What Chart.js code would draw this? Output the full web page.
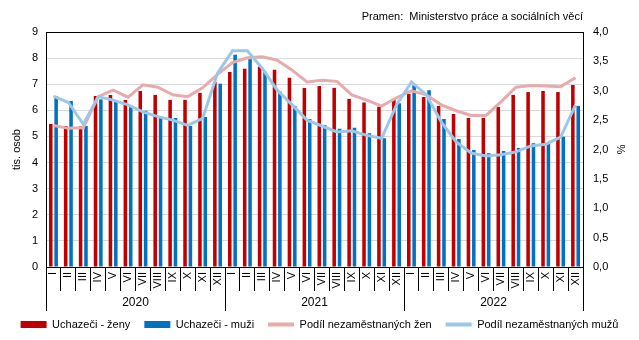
<!DOCTYPE html>
<html>
<head>
<meta charset="utf-8">
<script src="https://cdn.jsdelivr.net/npm/chart.js@4"></script>
<style>
  html, body { margin: 0; padding: 0; background: #fff; }
  #wrap { width: 639px; height: 340px; position: relative; }
</style>
</head>
<body>
<div id="wrap"><canvas id="c"></canvas></div>
<script>
const months = ['I','II','III','IV','V','VI','VII','VIII','IX','X','XI','XII'];
const years = ['2020','2021','2022'];
const womenJobseekers = [5.48,5.40,5.38,6.55,6.59,6.40,6.74,6.59,6.40,6.40,6.67,7.09,
                         7.47,7.59,7.67,7.55,7.25,6.86,6.93,6.86,6.44,6.30,6.14,6.40,
                         6.63,6.51,6.17,5.86,5.71,5.71,6.13,6.59,6.70,6.74,6.70,6.97];
const menJobseekers = [6.55,6.36,5.40,6.42,6.35,6.14,5.98,5.77,5.71,5.40,5.74,7.02,
                       8.13,7.96,7.48,6.72,6.17,5.67,5.44,5.29,5.33,5.12,4.93,6.27,
                       6.96,6.77,5.67,4.90,4.48,4.36,4.44,4.56,4.74,4.76,4.99,6.17];
const shareWomen = [2.41,2.36,2.37,2.90,3.01,2.89,3.10,3.06,2.93,2.90,3.05,3.28,
                    3.48,3.56,3.58,3.52,3.35,3.15,3.18,3.16,2.93,2.84,2.74,2.88,
                    3.00,2.93,2.76,2.66,2.58,2.58,2.81,3.06,3.09,3.08,3.07,3.22];
const shareMen = [2.91,2.80,2.43,2.90,2.84,2.76,2.64,2.56,2.50,2.41,2.53,3.30,
                  3.68,3.68,3.38,3.01,2.76,2.50,2.40,2.30,2.32,2.24,2.19,2.76,
                  3.15,2.93,2.47,2.13,1.94,1.89,1.91,1.96,2.06,2.09,2.21,2.76];
const seriesNames = ['Uchazeči - ženy','Uchazeči - muži','Podíl nezaměstnaných žen','Podíl nezaměstnaných mužů'];
const leftTitle = 'tis. osob';
const rightTitle = '%';
const sourceText = 'Pramen:  Ministerstvo práce a sociálních věcí';

const labels = years.flatMap(() => months);
const FONT = '"Liberation Sans", Arial, sans-serif';
const colors = ['#C00000', '#0070C0', '#E8ABAD', '#9CC8E8'];

const extras = {
  id: 'extras',
  afterDraw(chart) {
    const { ctx, chartArea, scales } = chart;
    const x = scales.x;
    const n = months.length;
    const half = (x.getPixelForValue(1) - x.getPixelForValue(0)) / 2;
    ctx.save();
    ctx.strokeStyle = '#000';
    ctx.lineWidth = 1;
    for (let k = 0; k <= years.length; k++) {
      const px = Math.round(x.getPixelForValue(k * n) - half) + 0.5;
      ctx.beginPath();
      ctx.moveTo(px, chartArea.bottom);
      ctx.lineTo(px, chartArea.bottom + 44);
      ctx.stroke();
    }
    ctx.fillStyle = '#000';
    ctx.font = '12px ' + FONT;
    ctx.textAlign = 'center';
    ctx.textBaseline = 'middle';
    years.forEach((yr, k) => {
      const cx = (x.getPixelForValue(k * n) + x.getPixelForValue(k * n + n - 1)) / 2;
      ctx.fillText(yr, cx, chartArea.bottom + 36);
    });
    ctx.font = '11px ' + FONT;
    ctx.textAlign = 'right';
    ctx.fillText(sourceText, chartArea.right, 17);
    ctx.restore();
  }
};

new Chart(document.getElementById('c'), {
  data: {
    labels: labels,
    datasets: [
      { type: 'bar', label: seriesNames[0], data: womenJobseekers, backgroundColor: colors[0],
        yAxisID: 'y', order: 2, categoryPercentage: 0.72, barPercentage: 0.66 },
      { type: 'bar', label: seriesNames[1], data: menJobseekers, backgroundColor: colors[1],
        yAxisID: 'y', order: 3, categoryPercentage: 0.72, barPercentage: 0.66 },
      { type: 'line', label: seriesNames[2], data: shareWomen, borderColor: colors[2],
        borderWidth: 3, pointRadius: 0, tension: 0, yAxisID: 'y2', order: 1 },
      { type: 'line', label: seriesNames[3], data: shareMen, borderColor: colors[3],
        borderWidth: 3, pointRadius: 0, tension: 0, yAxisID: 'y2', order: 0 }
    ]
  },
  options: {
    responsive: true,
    maintainAspectRatio: false,
    animation: false,
    layout: { padding: { top: 32, left: 0, right: 0, bottom: 0 } },
    plugins: {
      tooltip: { enabled: false },
      legend: {
        position: 'bottom',
        labels: {
          usePointStyle: true,
          pointStyleWidth: 26,
          boxHeight: 7,
          padding: 14,
          color: '#000',
          font: { family: FONT, size: 11 },
          generateLabels(chart) {
            return chart.data.datasets.map((ds, i) => ({
              text: ds.label,
              fillStyle: ds.type === 'bar' ? ds.backgroundColor : ds.borderColor,
              strokeStyle: ds.type === 'bar' ? ds.backgroundColor : ds.borderColor,
              lineWidth: ds.type === 'bar' ? 0 : 4,
              pointStyle: ds.type === 'bar' ? 'rect' : 'line',
              hidden: false,
              datasetIndex: i,
              fontColor: '#000'
            }));
          }
        }
      }
    },
    scales: {
      x: {
        type: 'category',
        position: 'bottom',
        offset: true,
        grid: { display: true, offset: true, drawOnChartArea: false, drawTicks: true,
                tickLength: 24, color: '#000', lineWidth: 1 },
        border: { display: true, color: '#000' },
        ticks: { autoSkip: false, maxRotation: 90, minRotation: 90, padding: -19,
                 color: '#000', font: { family: FONT, size: 11 } },
        afterFit(s) { s.height = 38; }
      },
      y: {
        position: 'left',
        min: 0, max: 9,
        ticks: { stepSize: 1, padding: 8, color: '#000', font: { family: FONT, size: 11 } },
        grid: { drawTicks: false, color: (c) => c.tick && c.tick.value === 9 ? '#000' : '#D9D9D9' },
        border: { display: true, color: '#000' },
        title: { display: true, text: leftTitle, color: '#000', font: { family: FONT, size: 11 },
                 padding: { top: 10, bottom: 0 } },
        afterFit(s) { s.width = 46; }
      },
      y2: {
        position: 'right',
        min: 0, max: 4,
        ticks: { stepSize: 0.5, padding: 10, color: '#000', font: { family: FONT, size: 11 },
                 callback: (v) => Number(v).toFixed(1).replace('.', ',') },
        grid: { display: false, drawTicks: false },
        border: { display: true, color: '#000' },
        title: { display: true, text: rightTitle, color: '#000', font: { family: FONT, size: 11 },
                 padding: { top: 12, bottom: 0 } },
        afterFit(s) { s.width = 56; }
      }
    }
  },
  plugins: [extras]
});
</script>
</body>
</html>
